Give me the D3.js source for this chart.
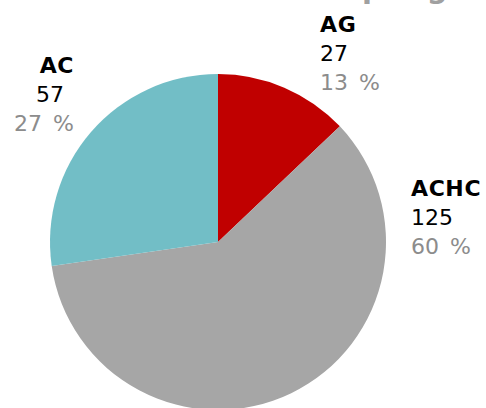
<!DOCTYPE html>
<html><head><meta charset="utf-8">
<script src="https://cdn.jsdelivr.net/npm/d3@7"></script>
<style>body{margin:0;background:#fff}svg{display:block}</style>
</head><body>
<script>
const categories = ["AG", "ACHC", "AC"];
const values = [27, 125, 57];
const percentLabels = ["13 %", "60 %", "27 %"];
const colors = ["#C00000", "#A6A6A6", "#72BEC6"];
const titleText = "Effectif par groupe";

const W = 486, H = 408;
const cx = 218, cy = 242, R = 168;
const svg = d3.select("body").append("svg").attr("width", W).attr("height", H);

const pie = d3.pie().sort(null).value(d => d)(values);
const arc = d3.arc().innerRadius(0).outerRadius(R);
const g = svg.append("g").attr("transform", `translate(${cx},${cy})`);
g.selectAll("path").data(pie).join("path")
  .attr("d", arc).attr("fill", (d, i) => colors[i]);

// title (cropped at top, as in the reference)
const t = svg.append("text").text(titleText)
  .attr("y", -2).attr("font-family", "DejaVu Sans").attr("font-weight", "bold")
  .attr("font-size", 29).attr("fill", "#A0A0A0");
const pre = t.node().getSubStringLength(0, titleText.indexOf("par"));
t.attr("x", 362 - pre);

const anchorsText = ["start", "start", "end"];
const fs = 22, lh = 29;
const anchors = [[320, 32], [411, 196], [74, 73]];
pie.forEach((d, i) => {
  const [x, y] = anchors[i];
  const lg = svg.append("g").attr("font-family", "DejaVu Sans").attr("font-size", fs)
    .attr("text-anchor", anchorsText[i]);
  lg.append("text").attr("x", x).attr("y", y).attr("font-weight", "bold").attr("fill", "#000")
    .attr("letter-spacing", 0.6).text(categories[i]);
  lg.append("text").attr("x", x + (i === 2 ? -10 : 0)).attr("y", y + lh).attr("fill", "#000").text(values[i]);
  lg.append("text").attr("x", x).attr("y", y + 2 * lh).attr("fill", "#8C8C8C")
    .attr("word-spacing", 4).text(percentLabels[i]);
});
</script>
</body></html>
